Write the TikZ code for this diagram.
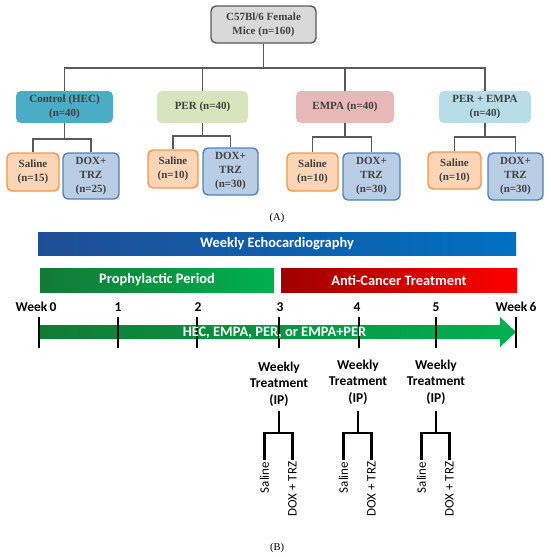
\documentclass[tikz,border=0pt]{standalone}
\usepackage{fontspec}
\setmainfont{Liberation Serif}
\newfontfamily\calfont{Carlito}
\usetikzlibrary{calc}
\definecolor{txtgray}{HTML}{404040}
\definecolor{linegray}{HTML}{595959}
\definecolor{topfill}{HTML}{D9D9D9}
\definecolor{ctrlfill}{HTML}{4BACC6}
\definecolor{perfill}{HTML}{D7E4BD}
\definecolor{empafill}{HTML}{E6B9B8}
\definecolor{pefill}{HTML}{B7DEE8}
\definecolor{salfill}{HTML}{FBD5B5}
\definecolor{saldraw}{HTML}{F79646}
\definecolor{doxfill}{HTML}{B9CDE5}
\definecolor{doxdraw}{HTML}{4F81BD}
\definecolor{blueL}{HTML}{1F4E96}
\definecolor{blueR}{HTML}{0070C0}
\definecolor{greenL}{HTML}{137A35}
\definecolor{greenR}{HTML}{00B050}
\definecolor{redL}{HTML}{A00000}
\definecolor{redR}{HTML}{FF0000}
\tikzset{
  abox/.style={rounded corners=5pt, align=center, inner sep=0pt, text=txtgray,
    font=\bfseries\fontsize{11}{14}\selectfont},
  grp/.style={abox, minimum height=32pt},
  salbox/.style={abox, fill=salfill, draw=saldraw, line width=1.4pt},
  doxbox/.style={abox, fill=doxfill, draw=doxdraw, line width=1.4pt},
  conn/.style={draw=linegray, line width=1.4pt},
  bar/.style={inner sep=0pt, text=white, font=\calfont\bfseries\fontsize{14.4}{16}\selectfont},
  wk/.style={inner sep=0pt, font=\calfont\bfseries\fontsize{13.5}{16}\selectfont},
  tick/.style={line width=2.5pt, black},
  bk/.style={line width=2.4pt, black},
  rot/.style={rotate=90, anchor=east, inner sep=1.5pt, font=\calfont\fontsize{13}{15}\selectfont},
  panel/.style={font=\fontsize{10.5}{12}\selectfont}
}
\begin{document}
\begin{tikzpicture}[x=1pt,y=-1pt]
\useasboundingbox (0,0) rectangle (550,557);
% ---------- Panel A ----------
\node[abox, fill=topfill, draw=linegray, line width=1.4pt, minimum width=105pt, minimum height=37pt] (top) at (263.5,24.5) {C57Bl/6 Female\\Mice (n=160)};
\node[grp, fill=ctrlfill, minimum width=97pt] (g1) at (64.5,107) {Control (HEC)\\(n=40)};
\node[grp, fill=perfill, minimum width=91pt] (g2) at (202.5,107) {PER (n=40)};
\node[grp, fill=empafill, minimum width=98pt] (g3) at (345,107) {EMPA (n=40)};
\node[grp, fill=pefill, minimum width=92pt] (g4) at (485,107) {PER + EMPA\\(n=40)};

\node[salbox, minimum width=52pt, minimum height=38pt] (s1) at (33,172) {Saline\\(n=15)};
\node[doxbox, minimum width=56pt, minimum height=46pt] (d1) at (91,176) {DOX+\\TRZ\\(n=25)};
\node[salbox, minimum width=50pt, minimum height=38pt] (s2) at (173,169) {Saline\\(n=10)};
\node[doxbox, minimum width=55pt, minimum height=47pt] (d2) at (230.5,171.5) {DOX+\\TRZ\\(n=30)};
\node[salbox, minimum width=51pt, minimum height=38pt] (s3) at (312.5,172) {Saline\\(n=10)};
\node[doxbox, minimum width=57pt, minimum height=47pt] (d3) at (371.5,176.5) {DOX+\\TRZ\\(n=30)};
\node[salbox, minimum width=53pt, minimum height=37pt] (s4) at (454.5,170.5) {Saline\\(n=10)};
\node[doxbox, minimum width=55pt, minimum height=47pt] (d4) at (515.5,176.5) {DOX+\\TRZ\\(n=30)};

\coordinate (tb) at (263,68);
\draw[conn] (top.south) -- (top.south |- tb);
\draw[conn] (g1.north) |- (tb) -| (g4.north);
\draw[conn] (g2.north) -- (g2.north |- tb);
\draw[conn] (g3.north) -- (g3.north |- tb);

\coordinate (b1) at (64.5,139);
\coordinate (b2) at (202.5,136);
\coordinate (b3) at (345,137);
\coordinate (b4) at (485,137);
\foreach \i in {1,2,3,4}{
  \draw[conn] (g\i.south) -- (b\i);
  \draw[conn] (s\i.north) |- (b\i) -| (d\i.north);
}
\node[panel] (pa) at (277,218) {(A)};

% ---------- Panel B ----------
\node[bar, left color=blueL, right color=blueR, minimum width=478pt, minimum height=23pt] (echo) at (277,243.5) {Weekly Echocardiography};
\node[bar, left color=greenL, right color=greenR, minimum width=234pt, minimum height=24pt] (proph) at (157,280) {Prophylactic Period};
\node[bar, left color=redL, right color=redR, minimum width=236pt, minimum height=24pt] (anti) at (399,280) {Anti-Cancer Treatment};

\shade[left color=greenL, right color=greenR] (40,325) -- (500,325) -- (500,317) -- (516,332) -- (500,347) -- (500,339) -- (40,339) -- cycle;

\foreach \n/\x in {0/39,1/118,2/197,3/279,4/359,5/436,6/516}{
  \coordinate (w\n) at (\x,317);
  \draw[tick] (w\n) -- ++(0,31);
}
\node[bar] (drug) at (274.5,332.5) {HEC, EMPA, PER, or EMPA+PER};

\node[wk] (l0) at (36,307) {Week\,0};
\node[wk] (l1) at (118,307) {1};
\node[wk] (l2) at (198,307) {2};
\node[wk] (l3) at (280,307) {3};
\node[wk] (l4) at (357,307) {4};
\node[wk] (l5) at (436,307) {5};
\node[wk] (l6) at (516,307) {Week\,6};

\foreach \k/\x/\y in {3/279/384,4/358/382,5/436/382}{
  \node[wk, align=center, font=\calfont\bfseries\fontsize{13.5}{16.5}\selectfont] (t\k) at (\x,\y) {Weekly\\Treatment\\(IP)};
  \coordinate (st\k) at (\x,411);
  \coordinate (j\k) at (\x,433);
  \coordinate (la\k) at (\x-14.5,460);
  \coordinate (lb\k) at (\x+13.5,460);
  \draw[bk] (st\k) -- (j\k);
  \draw[bk] (la\k) |- (j\k) -| (lb\k);
  \node[rot] (sal\k) at (la\k) {Saline};
  \node[rot] (dt\k) at (lb\k) {DOX + TRZ};
}
\node[panel] (pb) at (277,548) {(B)};
\end{tikzpicture}
\end{document}
